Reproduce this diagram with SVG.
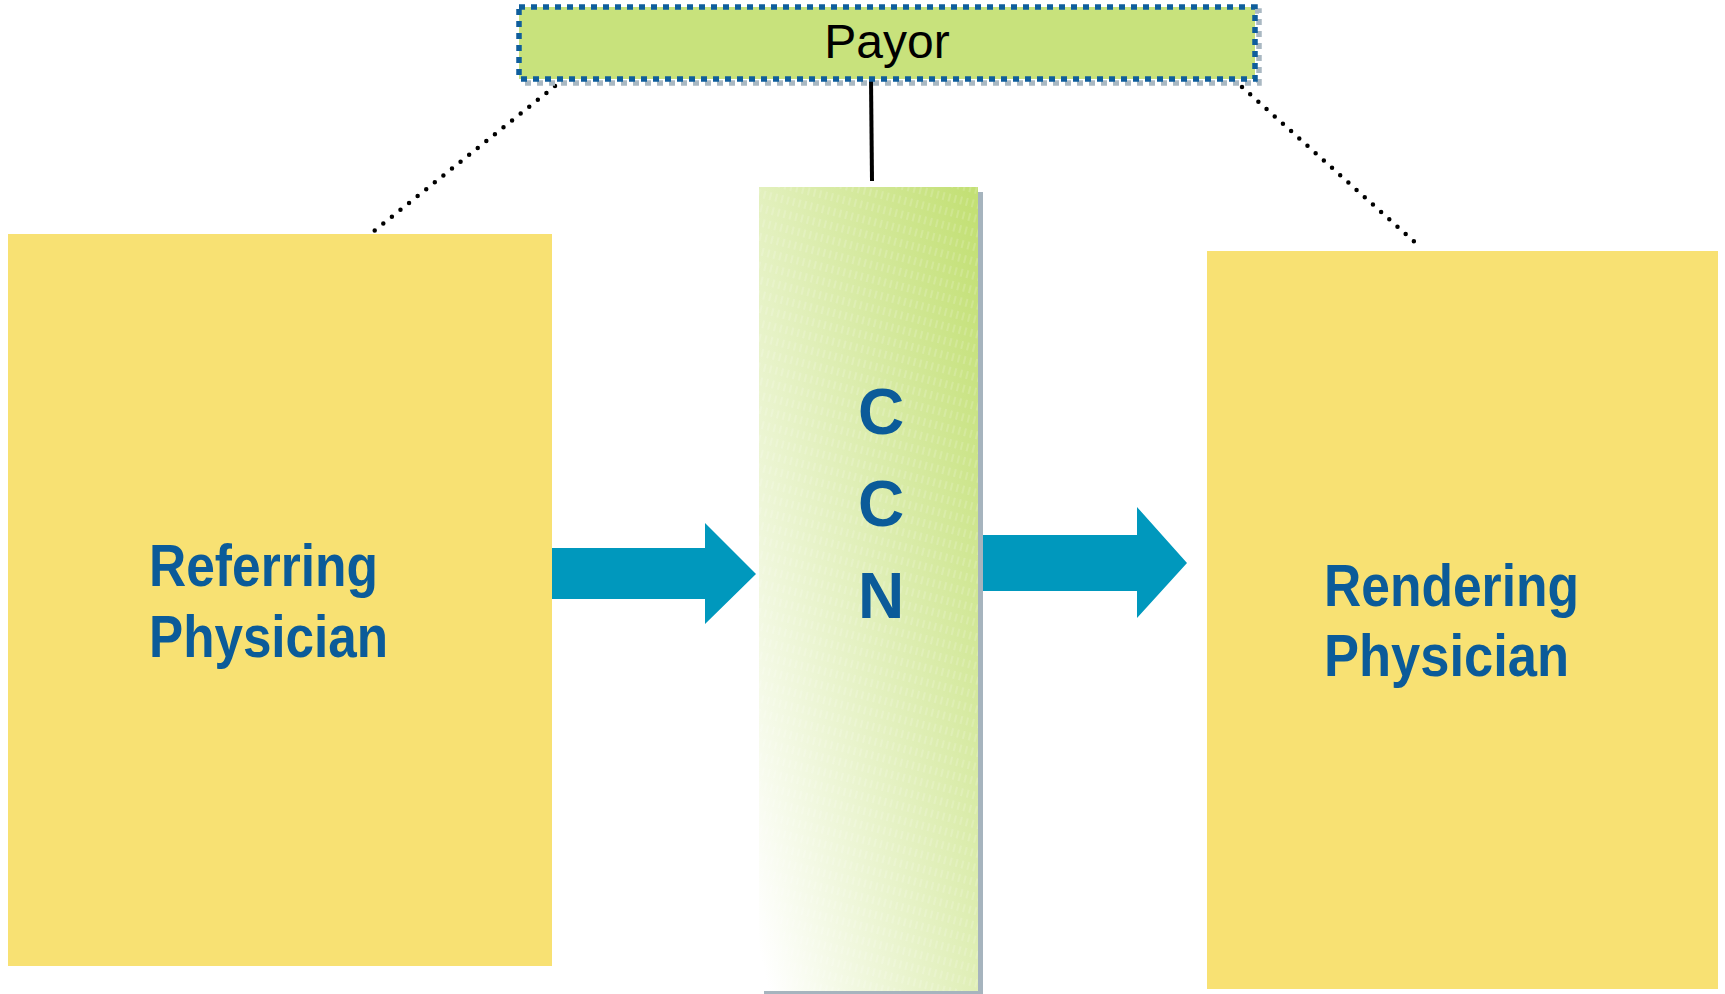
<svg xmlns="http://www.w3.org/2000/svg" width="1725" height="994" viewBox="0 0 1725 994">
  <style>
    .phys { fill: #F8E173; }
    .label { font-family: "Liberation Sans", Arial, sans-serif; font-weight: bold; fill: #0B5B99; }
    .ccn-letter { font-size: 64px; text-anchor: middle; }
    .flow { fill: #0098BD; }
    .dots { fill: none; stroke: #000; stroke-width: 4.5; stroke-linecap: round; stroke-dasharray: 0 11; }
  </style>
  <defs>
    <linearGradient id="ccnFill" x1="0" y1="0.95" x2="1" y2="0.05">
      <stop offset="0" stop-color="#FFFFFF"/>
      <stop offset="1" stop-color="#C3E075"/>
    </linearGradient>
    <pattern id="hatch" width="6" height="14" patternUnits="userSpaceOnUse" patternTransform="rotate(14)">
      <line x1="3" y1="0" x2="3" y2="8" stroke="#FFFFFF" stroke-opacity="0.3" stroke-width="1"/>
    </pattern>
  </defs>

  <!-- connectors -->
  <g id="connectors">
    <line class="dots" x1="555" y1="86" x2="369" y2="235"/>
    <line class="dots" x1="1242" y1="87" x2="1419" y2="246"/>
    <line x1="871" y1="79" x2="872" y2="181" stroke="#000" stroke-width="4"/>
    <polygon class="flow" points="551,548 705,548 705,523 756,574 705,624 705,599 551,599"/>
    <polygon class="flow" points="983,535 1137,535 1137,507 1187,563 1137,618 1137,591 983,591"/>
  </g>

  <!-- payor -->
  <g id="payor">
    <rect x="523" y="11" width="736" height="72" fill="none" stroke="#A9B8C2" stroke-width="5.5" stroke-dasharray="6 6"/>
    <rect x="519" y="7" width="736" height="72" fill="#C8E27C" stroke="#0F5E9C" stroke-width="5.5" stroke-dasharray="6 6"/>
    <text x="887" y="58" text-anchor="middle" font-family="Liberation Sans, Arial, sans-serif" font-size="48" fill="#000">Payor</text>
  </g>

  <!-- referring physician -->
  <g id="referring">
    <rect class="phys" x="8" y="234" width="544" height="732"/>
    <text class="label" font-size="60" x="149" y="586" textLength="229" lengthAdjust="spacingAndGlyphs">Referring</text>
    <text class="label" font-size="60" x="149" y="657" textLength="239" lengthAdjust="spacingAndGlyphs">Physician</text>
  </g>

  <!-- CCN -->
  <g id="ccn">
    <rect x="764" y="192" width="219" height="804" fill="#A6B4BE"/>
    <rect x="759" y="187" width="219" height="804" fill="url(#ccnFill)"/>
    <rect x="759" y="187" width="219" height="804" fill="url(#hatch)"/>
    <text class="label ccn-letter" x="881" y="434">C</text>
    <text class="label ccn-letter" x="881" y="526">C</text>
    <text class="label ccn-letter" x="881" y="618">N</text>
  </g>

  <!-- rendering physician -->
  <g id="rendering">
    <rect class="phys" x="1207" y="251" width="511" height="738"/>
    <text class="label" font-size="60" x="1324" y="606" textLength="255" lengthAdjust="spacingAndGlyphs">Rendering</text>
    <text class="label" font-size="60" x="1324" y="676" textLength="245" lengthAdjust="spacingAndGlyphs">Physician</text>
  </g>
</svg>
